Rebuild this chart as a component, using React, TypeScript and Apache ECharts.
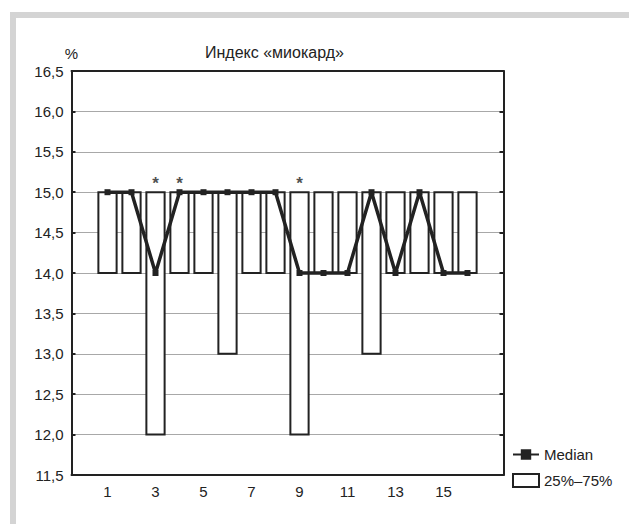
import React, { useEffect, useRef } from "react";
import * as echarts from "echarts";

const categories = ["0", "1", "2", "3", "4", "5", "6", "7", "8", "9", "10", "11", "12", "13", "14", "15", "16", "17"];
const groupIds = [1, 2, 3, 4, 5, 6, 7, 8, 9, 10, 11, 12, 13, 14, 15, 16];
const medianValues = [15, 15, 14, 15, 15, 15, 15, 15, 14, 14, 14, 15, 14, 15, 14, 14];
const q25Values = [14, 14, 12, 14, 14, 13, 14, 14, 12, 14, 14, 13, 14, 14, 14, 14];
const q75Values = [15, 15, 15, 15, 15, 15, 15, 15, 15, 15, 15, 15, 15, 15, 15, 15];
const starGroups = [3, 4, 9];
const shownXLabels = ["1", "3", "5", "7", "9", "11", "13", "15"];
const titleText = "Индекс «миокард»";
const yUnit = "%";
const medianName = "Median";
const boxName = "25%–75%";

const FONT = "'Liberation Sans', Arial, sans-serif";
const INK = "#222";
const FS = 15;

export default function App() {
  const ref = useRef<HTMLDivElement>(null);

  useEffect(() => {
    if (!ref.current) return;
    const chart = echarts.init(ref.current, null, { renderer: "svg" });

    const boxData = groupIds.map((g, i) => [String(g), q25Values[i], q75Values[i]]);
    const medianData = groupIds.map((g, i) => [String(g), medianValues[i]]);
    const starData = starGroups.map((g) => [String(g), q75Values[groupIds.indexOf(g)]]);

    const fmtY = (v: number) => v.toFixed(1).replace(".", ",");

    chart.setOption({
      animation: false,
      backgroundColor: "#fff",
      textStyle: { fontFamily: FONT, color: INK },
      title: {
        text: titleText,
        left: 205,
        top: 44,
        padding: 0,
        textStyle: { fontFamily: FONT, fontSize: 16, fontWeight: "normal", color: INK },
      },
      legend: {
        orient: "vertical",
        left: 512,
        top: 447,
        padding: 0,
        itemWidth: 26,
        itemHeight: 13,
        itemGap: 11,
        textStyle: { fontFamily: FONT, fontSize: FS, color: INK },
        data: [
          { name: medianName },
          {
            name: boxName,
            icon: "rect",
            itemStyle: { color: "#fff", borderColor: INK, borderWidth: 2 },
          },
        ],
      },
      graphic: [
        { type: "rect", shape: { x: 10, y: 12, width: 619, height: 6 }, style: { fill: "#d4d4d4" }, silent: true },
        { type: "rect", shape: { x: 10, y: 12, width: 6, height: 512 }, style: { fill: "#d4d4d4" }, silent: true },
      ],
      grid: { left: 71.5, top: 71, width: 432, height: 404, containLabel: false },
      xAxis: [
        {
          type: "category",
          data: categories,
          position: "bottom",
          boundaryGap: true,
          axisLine: { lineStyle: { color: INK, width: 2 } },
          axisTick: { inside: true, length: 4, alignWithLabel: true, interval: 0, lineStyle: { color: INK, width: 2 } },
          axisLabel: {
            interval: 0,
            margin: 9,
            fontFamily: FONT,
            fontSize: FS,
            color: INK,
            formatter: (v: string) => (shownXLabels.includes(v) ? v : ""),
          },
          splitLine: { show: false },
        },
        {
          type: "category",
          data: categories,
          position: "top",
          boundaryGap: true,
          axisLine: { lineStyle: { color: INK, width: 2 } },
          axisTick: { inside: true, length: 4, alignWithLabel: true, interval: 0, lineStyle: { color: INK, width: 2 } },
          axisLabel: { show: false },
          splitLine: { show: false },
        },
      ],
      yAxis: [
        {
          type: "value",
          min: 11.5,
          max: 16.5,
          interval: 0.5,
          position: "left",
          name: yUnit,
          nameLocation: "end",
          nameGap: 10,
          nameTextStyle: { fontFamily: FONT, fontSize: FS, color: INK },
          axisLine: { show: true, lineStyle: { color: INK, width: 2 } },
          axisTick: { show: true, inside: true, length: 4, lineStyle: { color: INK, width: 2 } },
          axisLabel: { fontFamily: FONT, fontSize: FS, color: INK, margin: 8, formatter: fmtY },
          splitLine: { show: true, lineStyle: { color: "#a8a8a8", width: 1 } },
        },
        {
          type: "value",
          min: 11.5,
          max: 16.5,
          interval: 0.5,
          position: "right",
          axisLine: { show: true, lineStyle: { color: INK, width: 2 } },
          axisTick: { show: true, inside: true, length: 4, lineStyle: { color: INK, width: 2 } },
          axisLabel: { show: false },
          splitLine: { show: false },
        },
      ],
      series: [
        {
          name: boxName,
          type: "custom",
          xAxisIndex: 0,
          yAxisIndex: 0,
          encode: { x: 0, y: [1, 2] },
          itemStyle: { color: "#fff", borderColor: INK, borderWidth: 2 },
          renderItem: (params: any, api: any) => {
            const x = api.value(0);
            const lo = api.value(1);
            const hi = api.value(2);
            const top = api.coord([x, hi]);
            const bot = api.coord([x, lo]);
            const w = api.size([1, 0])[0] * 0.76;
            return {
              type: "rect",
              shape: { x: top[0] - w / 2, y: top[1], width: w, height: bot[1] - top[1] },
              style: { fill: "#fff", stroke: INK, lineWidth: 2 },
            };
          },
          data: boxData,
          z: 2,
        },
        {
          name: medianName,
          type: "line",
          xAxisIndex: 0,
          yAxisIndex: 0,
          data: medianData,
          symbol: "rect",
          symbolSize: 6,
          showAllSymbol: true,
          lineStyle: { color: INK, width: 3.5 },
          itemStyle: { color: INK },
          z: 3,
        },
        {
          name: "stars",
          type: "scatter",
          xAxisIndex: 0,
          yAxisIndex: 0,
          data: starData,
          symbolSize: 1,
          itemStyle: { color: "rgba(0,0,0,0)" },
          silent: true,
          label: {
            show: true,
            formatter: "*",
            position: "top",
            distance: 0,
            fontFamily: FONT,
            fontSize: 17,
            fontWeight: "bold",
            color: INK,
          },
          z: 4,
        },
      ],
    });

    return () => chart.dispose();
  }, []);

  return (
    <div
      ref={ref}
      style={{ position: "fixed", left: 0, top: 0, width: 629, height: 524, background: "#fff" }}
    />
  );
}
